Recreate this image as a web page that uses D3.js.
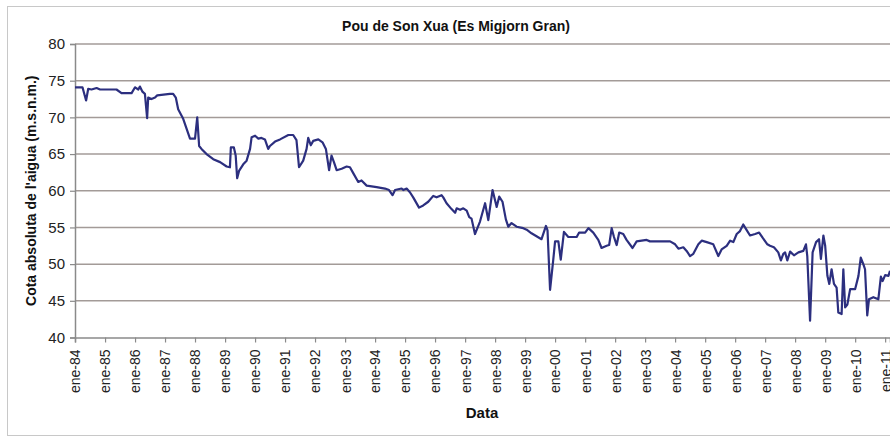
<!DOCTYPE html>
<html>
<head>
<meta charset="utf-8">
<script src="https://cdn.jsdelivr.net/npm/d3@7"></script>
<style>
  body { margin: 0; background: #fff; }
  svg { display: block; font-family: Arial, "Liberation Sans", sans-serif; }
</style>
</head>
<body>
<svg id="chart" width="890" height="438"></svg>
<script>
// data (piezometric level, m a.s.l.)
var dates = [
  "1984-01-01","1984-04-01","1984-05-15","1984-06-10","1984-07-20","1984-09-20","1984-11-01",
  "1985-05-20","1985-07-20","1985-11-20","1986-01-01","1986-02-10","1986-03-01","1986-04-01",
  "1986-05-01","1986-05-28","1986-06-10","1986-07-20","1986-09-01","1986-09-28","1987-03-01",
  "1987-04-10","1987-05-12","1987-06-10","1987-08-10","1987-11-01","1988-01-01","1988-01-28",
  "1988-02-20","1988-03-20","1988-05-20","1988-08-10","1988-11-01","1989-01-20","1989-03-01",
  "1989-03-12","1989-04-18","1989-05-10","1989-05-28","1989-06-20","1989-08-10","1989-09-20",
  "1989-11-01","1989-11-20","1990-01-01","1990-02-10","1990-03-20","1990-05-01","1990-06-10",
  "1990-07-01","1990-09-01","1990-11-01","1991-02-10","1991-04-10","1991-05-20","1991-06-20",
  "1991-08-10","1991-09-20","1991-10-10","1991-11-10","1991-12-10","1992-02-10","1992-04-01",
  "1992-05-12","1992-06-20","1992-07-20","1992-08-18","1992-09-20","1992-11-20","1993-01-20",
  "1993-03-01","1993-04-10","1993-06-10","1993-07-20","1993-09-20","1994-01-20","1994-05-01",
  "1994-06-20","1994-08-01","1994-09-01","1994-10-10","1994-11-20","1994-12-10","1995-01-20",
  "1995-03-01","1995-04-10","1995-06-20","1995-08-10","1995-10-10","1995-12-10","1996-01-20",
  "1996-03-20","1996-04-10","1996-05-20","1996-07-20","1996-09-01","1996-09-20","1996-11-01",
  "1996-12-10","1997-01-20","1997-02-20","1997-03-20","1997-05-01","1997-07-01","1997-09-01",
  "1997-10-10","1997-12-01","1998-01-20","1998-02-20","1998-04-01","1998-05-12","1998-06-10",
  "1998-07-20","1998-09-20","1998-12-10","1999-01-20","1999-03-20","1999-07-20","1999-09-12",
  "1999-10-01","1999-11-01","1999-12-10","2000-01-01","2000-02-10","2000-03-10","2000-04-18",
  "2000-06-10","2000-09-20","2000-10-20","2001-01-01","2001-02-10","2001-04-10","2001-06-10",
  "2001-07-20","2001-09-20","2001-10-20","2001-11-20","2001-12-18","2002-01-20","2002-02-20",
  "2002-04-10","2002-05-20","2002-08-01","2002-09-20","2003-01-20","2003-03-01","2003-11-01",
  "2004-01-01","2004-02-10","2004-04-10","2004-05-20","2004-07-01","2004-08-10","2004-10-10",
  "2004-11-20","2005-01-20","2005-04-10","2005-06-10","2005-07-20","2005-09-20","2005-11-01",
  "2005-12-10","2006-01-20","2006-03-01","2006-04-10","2006-05-12","2006-07-01","2006-09-01",
  "2006-10-20","2006-12-01","2007-01-28","2007-03-01","2007-04-18","2007-06-10","2007-07-12",
  "2007-08-10","2007-09-01","2007-09-28","2007-11-01","2007-12-18","2008-02-10","2008-04-10",
  "2008-05-12","2008-05-28","2008-07-01","2008-08-01","2008-09-12","2008-10-18","2008-11-10",
  "2008-12-10","2009-01-01","2009-01-28","2009-02-20","2009-03-20","2009-04-18","2009-05-20",
  "2009-06-10","2009-07-20","2009-08-10","2009-09-01","2009-09-28","2009-11-01","2010-01-01",
  "2010-02-10","2010-03-10","2010-04-10","2010-05-01","2010-05-28","2010-06-18","2010-08-10",
  "2010-10-10","2010-11-10","2010-12-01","2011-01-01","2011-02-10","2011-03-01"
];
var levels = [
  74.1,74.1,72.3,73.9,73.8,74.0,73.8,
  73.8,73.3,73.3,74.1,73.8,74.2,73.5,
  73.2,69.9,72.7,72.5,72.7,73.0,73.2,
  73.2,72.7,71.1,69.8,67.1,67.1,70.0,
  66.1,65.7,65.0,64.3,63.9,63.3,63.2,
  65.9,65.9,64.8,61.7,62.7,63.6,64.1,
  65.7,67.3,67.5,67.1,67.2,67.0,65.7,
  66.1,66.7,67.0,67.6,67.6,66.9,63.2,
  64.1,65.7,67.2,66.2,66.8,67.0,66.6,
  65.7,62.8,64.8,63.9,62.8,63.0,63.3,
  63.2,62.4,61.2,61.4,60.7,60.5,60.3,
  60.1,59.4,60.1,60.2,60.3,60.1,60.3,
  59.8,59.1,57.7,58.0,58.5,59.3,59.1,
  59.4,59.1,58.3,57.5,57.0,57.6,57.4,
  57.6,57.3,56.4,56.2,54.1,55.8,58.3,
  56.0,60.1,57.8,59.2,58.5,56.1,55.1,
  55.6,55.1,54.9,54.7,54.2,53.4,55.2,
  54.6,46.5,50.6,53.1,53.1,50.6,54.4,
  53.7,53.7,54.3,54.3,54.9,54.3,53.3,
  52.2,52.5,52.6,54.9,53.7,52.6,54.3,
  54.1,53.3,52.2,53.1,53.3,53.1,53.1,
  52.7,52.1,52.3,51.8,51.1,51.4,52.7,
  53.2,53.0,52.7,51.1,52.0,52.5,53.2,
  53.0,54.1,54.5,55.4,54.8,53.9,54.1,
  54.3,53.6,52.7,52.5,52.3,51.6,50.5,
  51.4,51.6,50.5,51.7,51.2,51.6,51.8,
  52.7,51.1,42.3,51.6,53.0,53.4,50.7,
  53.9,52.5,48.4,47.3,49.3,47.3,46.8,
  43.4,43.2,49.3,44.1,44.5,46.6,46.6,
  48.4,50.9,50.0,49.3,43.0,45.2,45.5,
  45.2,48.3,47.7,48.5,48.4,49.1
];
var yTicks = [40, 45, 50, 55, 60, 65, 70, 75, 80];
var chartTitle = "Pou de Son Xua (Es Migjorn Gran)";
var yTitle = "Cota absoluta de l'aigua (m.s.n.m.)";
var xTitle = "Data";

(function () {
  var parse = d3.timeParse("%Y-%m-%d");
  var points = dates.map(function (d, i) { return { date: parse(d), value: levels[i] }; });

  var svg = d3.select("#chart");
  var mLeft = 75, mRight = 890, mTop = 44, mBottom = 337.5;

  // outer chart frame
  svg.append("rect")
    .attr("x", 7.5).attr("y", 6.5)
    .attr("width", 900).attr("height", 429)
    .attr("fill", "#fff")
    .attr("stroke", "#c8c8c8");

  var x = d3.scaleTime()
    .domain([new Date(1984, 0, 1), new Date(2011, 2, 1)])
    .range([mLeft, mRight]);
  var y = d3.scaleLinear()
    .domain([40, 80])
    .range([mBottom, mTop]);

  // gridlines
  svg.append("g")
    .selectAll("line")
    .data(yTicks.slice(1))
    .enter().append("line")
    .attr("x1", mLeft).attr("x2", mRight)
    .attr("y1", function (d) { return y(d); })
    .attr("y2", function (d) { return y(d); })
    .attr("stroke", "#a39b98")
    .attr("stroke-width", 1.5);

  // y axis
  var yAxis = svg.append("g")
    .attr("transform", "translate(" + mLeft + ",0)")
    .call(d3.axisLeft(y).tickValues(yTicks).tickSize(5).tickPadding(5));
  yAxis.select(".domain").attr("stroke", "#8a8a8a").attr("stroke-width", 1.5);
  yAxis.selectAll(".tick line").attr("stroke", "#8a8a8a").attr("stroke-width", 1.2);
  yAxis.selectAll("text")
    .attr("font-size", 15)
    .attr("fill", "#222")
    .attr("font-family", "Arial, 'Liberation Sans', sans-serif");

  // x axis
  var xAxis = svg.append("g")
    .attr("transform", "translate(0," + mBottom + ")")
    .call(d3.axisBottom(x)
      .ticks(d3.timeYear.every(1))
      .tickSize(5)
      .tickFormat(function (d) { return "ene-" + d3.timeFormat("%y")(d); }));
  xAxis.select(".domain").attr("stroke", "#8a8a8a").attr("stroke-width", 1.5);
  xAxis.selectAll(".tick line").attr("stroke", "#8a8a8a").attr("stroke-width", 1.2);
  xAxis.selectAll("text")
    .attr("font-size", 14)
    .attr("fill", "#222")
    .attr("font-family", "Arial, 'Liberation Sans', sans-serif")
    .attr("text-anchor", "end")
    .attr("transform", "rotate(-90)")
    .attr("x", -12)
    .attr("y", 0)
    .attr("dy", "0.35em");

  // series line
  var line = d3.line()
    .x(function (d) { return x(d.date); })
    .y(function (d) { return y(d.value); });

  svg.append("path")
    .datum(points)
    .attr("fill", "none")
    .attr("stroke", "#2c2f7f")
    .attr("stroke-width", 2.2)
    .attr("stroke-linejoin", "round")
    .attr("d", line);

  // titles
  svg.append("text")
    .attr("x", 456).attr("y", 31)
    .attr("text-anchor", "middle")
    .attr("font-size", 14)
    .attr("font-weight", "bold")
    .attr("fill", "#111")
    .text(chartTitle);

  svg.append("text")
    .attr("transform", "translate(36," + ((mTop + mBottom) / 2) + ") rotate(-90)")
    .attr("text-anchor", "middle")
    .attr("font-size", 14)
    .attr("font-weight", "bold")
    .attr("fill", "#111")
    .text(yTitle);

  svg.append("text")
    .attr("x", 482).attr("y", 418)
    .attr("text-anchor", "middle")
    .attr("font-size", 15)
    .attr("font-weight", "bold")
    .attr("fill", "#111")
    .text(xTitle);
})();
</script>
</body>
</html>
